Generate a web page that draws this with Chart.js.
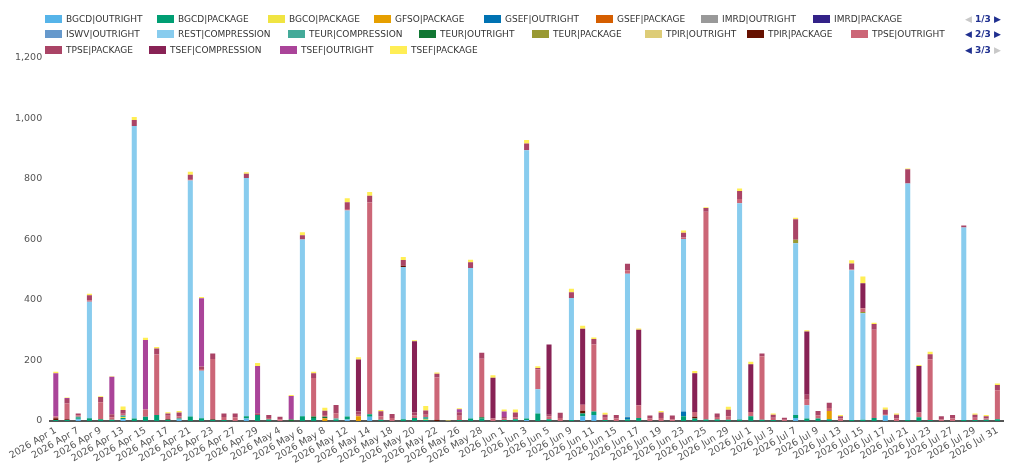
<!DOCTYPE html>
<html>
<head>
<meta charset="utf-8">
<script src="https://cdn.jsdelivr.net/npm/chart.js@4.4.1/dist/chart.umd.min.js"></script>
<style>
  html, body { margin: 0; padding: 0; background: #fff; }
  #wrap { position: relative; width: 1024px; height: 466px; }
  #legend { position: absolute; left: 0; top: 11px; width: 960px; font: 9px "DejaVu Sans", sans-serif; color: #333; }
  .row { position: relative; height: 15.5px; white-space: nowrap; }
  .item { position: absolute; top: 0; height: 15.5px; display: flex; align-items: center; }
  .box { width: 17px; height: 8px; margin-right: 4px; }
  #pager { position: absolute; left: 965px; top: 11px; font: bold 9px "DejaVu Sans", sans-serif; color: #1f2f8f; }
  #pager div { height: 15.5px; display: flex; align-items: center; }
  .off { color: #c8c8c8; }
</style>
</head>
<body>
<div id="wrap">
  <canvas id="grafico" width="1024" height="466"></canvas>
  <div id="legend"></div>
  <div id="pager">
    <div><span class="off">&#9664;</span>&nbsp;1/3&nbsp;<span>&#9654;</span></div>
    <div><span>&#9664;</span>&nbsp;2/3&nbsp;<span>&#9654;</span></div>
    <div><span>&#9664;</span>&nbsp;3/3&nbsp;<span class="off">&#9654;</span></div>
  </div>
</div>
<script>
// Datas (dias úteis) do eixo X
const datas = [
  '2026 Apr 1','2026 Apr 2','2026 Apr 7','2026 Apr 8','2026 Apr 9','2026 Apr 10','2026 Apr 13','2026 Apr 14','2026 Apr 15','2026 Apr 16',
  '2026 Apr 17','2026 Apr 20','2026 Apr 21','2026 Apr 22','2026 Apr 23','2026 Apr 24','2026 Apr 27','2026 Apr 28','2026 Apr 29','2026 Apr 30',
  '2026 May 4','2026 May 5','2026 May 6','2026 May 7','2026 May 8','2026 May 11','2026 May 12','2026 May 13','2026 May 14','2026 May 15',
  '2026 May 18','2026 May 19','2026 May 20','2026 May 21','2026 May 22','2026 May 25','2026 May 26','2026 May 27','2026 May 28','2026 May 29',
  '2026 Jun 1','2026 Jun 2','2026 Jun 3','2026 Jun 4','2026 Jun 5','2026 Jun 8','2026 Jun 9','2026 Jun 10','2026 Jun 11','2026 Jun 12',
  '2026 Jun 15','2026 Jun 16','2026 Jun 17','2026 Jun 18','2026 Jun 19','2026 Jun 22','2026 Jun 23','2026 Jun 24','2026 Jun 25','2026 Jun 26',
  '2026 Jun 29','2026 Jun 30','2026 Jul 1','2026 Jul 2','2026 Jul 3','2026 Jul 6','2026 Jul 7','2026 Jul 8','2026 Jul 9','2026 Jul 10',
  '2026 Jul 13','2026 Jul 14','2026 Jul 15','2026 Jul 16','2026 Jul 17','2026 Jul 20','2026 Jul 21','2026 Jul 22','2026 Jul 23','2026 Jul 24',
  '2026 Jul 27','2026 Jul 28','2026 Jul 29','2026 Jul 30','2026 Jul 31'
];

// Séries (uma por produto|tipo)
const bgcdOutright = [0,0,6,0,0,0,6,0,0,0, 0,5,0,0,0,0,0,8,0,0, 0,0,0,0,0,0,5,0,14,0, 0,0,0,0,0,0,0,0,0,0,
  0,0,3,0,0,0,0,16,20,0, 0,0,0,0,0,0,0,0,0,0, 0,0,0,0,0,0,10,0,0,0, 0,0,0,0,18,0,0,0,0,0, 0,0,0,0,0];
const bgcdPackage = [3,3,3,9,5,4,4,8,14,20, 4,3,15,9,4,3,0,8,20,5, 0,0,16,10,0,4,10,0,8,4, 0,6,10,4,0,0,3,8,8,0,
  3,6,5,25,6,0,3,9,11,3, 0,5,10,0,0,0,16,8,5,5, 4,5,16,4,3,0,10,8,8,6, 0,3,4,10,0,0,3,12,3,0, 0,3,3,4,6];
const bgcoPackage = [0,0,0,0,0,0,3,0,0,0, 0,0,0,0,0,0,0,0,0,0, 0,0,0,0,0,0,0,0,0,0, 0,0,0,3,0,0,0,0,0,0,
  0,0,0,0,0,0,0,0,0,0, 0,0,0,0,0,0,0,0,0,0, 0,0,0,0,0,0,0,0,0,0, 0,0,0,0,0,0,0,0,0,0, 0,0,0,0,0];
const gfsoPackage = [0,0,0,0,0,0,0,0,0,0, 0,0,0,0,0,0,0,0,0,0, 0,0,0,0,8,0,0,16,0,0, 0,0,0,0,0,0,0,0,0,0,
  0,0,0,0,0,0,0,0,0,0, 0,0,0,0,0,0,0,0,0,0, 0,0,0,0,0,0,0,0,0,27, 0,0,0,0,0,0,0,0,0,0, 0,0,0,0,0];
const gsefOutright = [0,0,0,0,0,0,0,0,0,0, 0,0,0,0,0,0,0,0,0,0, 0,0,0,0,0,0,0,0,0,0, 0,0,0,0,0,0,0,0,0,0,
  0,0,0,0,0,0,0,0,0,0, 0,7,0,0,0,0,15,0,0,0, 0,0,0,0,0,0,0,0,0,0, 0,0,0,0,0,0,0,0,0,0, 0,0,0,0,0];
const gsefPackage = [0,0,0,0,0,0,0,0,0,0, 0,0,0,0,0,0,0,0,0,0, 0,0,0,0,2,0,0,0,0,0, 0,0,0,0,0,0,0,0,0,0,
  0,0,0,0,0,0,0,0,0,0, 0,0,0,0,0,0,0,0,0,0, 0,0,0,0,0,0,0,0,0,0, 0,0,0,0,0,0,0,0,0,0, 0,0,0,0,0];
const imrdOutright = [0,0,0,0,0,0,0,0,0,0, 0,0,0,0,0,0,0,0,0,0, 0,0,0,0,0,0,0,0,0,0, 0,0,0,0,0,0,0,0,0,0,
  0,0,0,0,0,0,0,0,0,0, 0,2,0,0,0,0,0,0,0,0, 0,0,0,0,0,0,0,0,0,0, 0,0,0,0,0,0,0,0,0,0, 0,0,0,0,0];
const imrdPackage = [0,0,0,0,0,0,0,0,0,0, 0,0,0,0,0,0,0,0,0,0, 0,0,0,0,0,0,0,0,0,0, 0,0,0,0,0,0,0,0,0,0,
  0,0,0,0,0,0,0,0,0,0, 0,0,0,0,0,0,0,0,0,0, 0,0,0,0,0,0,0,0,0,0, 0,0,0,0,0,0,0,0,0,0, 0,0,0,0,0];
const iswvOutright = [0,0,0,0,0,0,0,0,0,0, 0,0,0,0,0,0,0,0,0,0, 0,0,0,0,0,0,0,0,0,0, 0,0,0,0,0,0,0,0,0,0,
  0,0,0,0,0,0,0,0,0,0, 0,0,0,0,0,0,0,0,0,0, 0,0,0,0,0,0,0,0,0,0, 0,0,0,0,0,0,0,0,0,0, 0,0,0,0,0];
const restCompression = [0,0,0,385,0,0,0,967,0,0, 0,0,780,157,0,0,0,787,0,0, 0,0,584,0,0,0,681,0,0,0, 0,503,0,0,0,0,0,498,0,0,
  0,0,887,80,0,0,404,0,0,0, 0,473,0,0,0,0,571,0,0,0, 0,715,0,0,0,0,568,44,0,0, 0,495,352,0,0,0,782,0,0,0, 0,637,0,0,0];
const teurCompression = [0,0,5,0,0,0,5,0,0,0, 0,0,0,0,0,0,0,0,0,0, 0,0,0,0,0,4,0,0,0,0, 0,0,0,6,0,0,0,0,0,0,
  0,0,0,0,0,0,0,0,0,0, 0,0,0,0,0,0,0,0,0,0, 0,0,0,0,0,0,0,0,0,0, 0,0,0,0,0,0,0,0,0,0, 0,0,0,0,0];
const teurOutright = [0,0,0,0,2,0,0,0,0,0, 0,0,0,0,0,0,0,0,0,0, 0,5,0,5,4,0,0,0,0,0, 0,0,0,0,0,0,0,0,4,0,
  0,0,0,0,0,0,0,0,0,0, 0,0,0,0,0,0,0,0,0,0, 0,0,0,0,0,0,0,0,0,0, 0,0,0,0,0,0,0,0,0,0, 0,0,0,0,0];
const teurPackage = [0,0,0,0,0,0,0,0,0,0, 0,0,0,0,0,0,0,0,0,0, 0,0,0,0,0,0,0,0,0,0, 0,0,0,0,0,0,0,0,0,0,
  0,0,0,0,0,0,0,0,0,0, 0,0,0,0,0,0,0,0,0,0, 0,0,0,0,0,0,11,0,0,0, 0,0,4,0,0,0,0,0,0,0, 0,0,0,0,0];
const tpirOutright = [0,0,0,0,0,0,0,0,0,0, 0,0,0,0,0,0,0,0,0,0, 0,0,0,0,0,0,0,0,0,0, 0,0,0,0,0,0,0,0,0,0,
  0,0,0,0,0,0,0,0,0,0, 0,0,0,0,0,0,0,0,0,0, 0,0,0,0,0,0,0,0,0,0, 0,0,0,0,0,0,0,0,0,0, 0,0,0,0,0];
const tpirPackage = [6,3,0,0,0,0,0,0,0,0, 3,0,0,0,3,0,0,0,0,0, 0,0,0,0,0,0,0,0,0,0, 0,4,0,0,4,0,0,0,0,0,
  0,0,0,0,0,0,0,9,0,0, 0,0,0,0,0,0,0,6,0,0, 0,0,0,0,0,0,0,0,0,0, 0,0,0,0,0,0,0,0,0,0, 0,0,0,0,0];
const tpseOutright = [6,52,5,5,55,8,6,0,24,200, 10,8,5,6,198,10,12,0,0,5, 6,0,0,127,6,18,5,5,700,12, 10,0,8,8,140,0,14,0,194,8,
  5,6,0,66,10,10,0,20,222,8, 8,11,42,8,10,6,5,16,687,8, 12,14,14,210,8,4,0,18,10,10, 8,3,13,292,5,8,0,16,201,6, 8,0,8,4,96];
const tpsePackage = [0,15,6,17,17,10,12,20,0,20, 8,12,14,8,18,12,13,14,6,10, 8,0,14,16,14,27,22,10,23,16, 13,19,10,14,12,0,12,19,20,0,
  5,16,22,4,5,17,19,0,18,10, 12,22,0,10,18,12,15,0,12,12, 21,26,0,9,10,7,68,17,15,17, 8,20,0,19,14,13,47,0,17,10, 12,6,10,8,17];
const tsefCompression = [0,0,0,0,0,0,0,0,0,0, 0,0,0,0,0,0,0,0,0,0, 0,0,0,0,0,0,0,172,0,0, 0,0,236,0,0,0,0,0,0,135,
  0,0,0,0,232,0,0,251,0,0, 0,0,250,0,0,0,0,128,0,0, 0,0,158,0,0,0,0,209,0,0, 0,0,82,0,0,0,0,154,0,0, 0,0,0,0,0];
const tsefOutright = [143,3,0,0,0,124,0,0,230,0, 0,0,0,226,0,0,0,0,156,0, 0,78,0,0,0,0,0,0,0,0, 0,0,0,0,0,0,10,0,0,0,
  18,0,0,0,0,0,0,0,0,0, 0,0,0,0,0,0,0,0,0,0, 0,0,0,0,0,0,0,0,0,0, 0,0,0,0,0,0,0,0,0,0, 0,0,0,0,0];
const tsefPackage = [5,2,0,5,3,2,12,10,7,5, 4,5,10,4,0,0,0,5,10,0, 0,3,10,5,10,0,13,8,12,4, 0,10,3,15,4,2,3,8,0,8,
  7,10,12,6,0,0,11,10,5,6, 0,0,4,0,5,0,8,7,3,0, 10,9,8,0,4,0,5,4,0,0, 4,10,23,4,8,4,3,3,8,0, 0,0,4,4,5];

const series = [
  { nome: 'BGCD|OUTRIGHT', cor: '#56B4E9', dados: bgcdOutright },
  { nome: 'BGCD|PACKAGE', cor: '#009E73', dados: bgcdPackage },
  { nome: 'BGCO|PACKAGE', cor: '#F0E442', dados: bgcoPackage },
  { nome: 'GFSO|PACKAGE', cor: '#E69F00', dados: gfsoPackage },
  { nome: 'GSEF|OUTRIGHT', cor: '#0072B2', dados: gsefOutright },
  { nome: 'GSEF|PACKAGE', cor: '#D55E00', dados: gsefPackage },
  { nome: 'IMRD|OUTRIGHT', cor: '#999999', dados: imrdOutright },
  { nome: 'IMRD|PACKAGE', cor: '#332288', dados: imrdPackage },
  { nome: 'ISWV|OUTRIGHT', cor: '#6699CC', dados: iswvOutright },
  { nome: 'REST|COMPRESSION', cor: '#88CCEE', dados: restCompression },
  { nome: 'TEUR|COMPRESSION', cor: '#44AA99', dados: teurCompression },
  { nome: 'TEUR|OUTRIGHT', cor: '#117733', dados: teurOutright },
  { nome: 'TEUR|PACKAGE', cor: '#999933', dados: teurPackage },
  { nome: 'TPIR|OUTRIGHT', cor: '#DDCC77', dados: tpirOutright },
  { nome: 'TPIR|PACKAGE', cor: '#661100', dados: tpirPackage },
  { nome: 'TPSE|OUTRIGHT', cor: '#CC6677', dados: tpseOutright },
  { nome: 'TPSE|PACKAGE', cor: '#AA4466', dados: tpsePackage },
  { nome: 'TSEF|COMPRESSION', cor: '#882255', dados: tsefCompression },
  { nome: 'TSEF|OUTRIGHT', cor: '#AA4499', dados: tsefOutright },
  { nome: 'TSEF|PACKAGE', cor: '#FFEE55', dados: tsefPackage }
];

// Legenda em HTML: posição (x) de cada item em cada linha
const colunasLegenda = [
  [45, 157, 268, 374, 484, 596, 701, 813],
  [45, 157, 288, 419, 532, 645, 747, 851],
  [45, 149, 280, 390]
];
const legend = document.getElementById('legend');
let k = 0;
colunasLegenda.forEach(linha => {
  const row = document.createElement('div');
  row.className = 'row';
  linha.forEach(x => {
    const s = series[k++];
    const item = document.createElement('div');
    item.className = 'item';
    item.style.left = x + 'px';
    item.innerHTML = `<span class="box" style="background:${s.cor}"></span><span>${s.nome}</span>`;
    row.appendChild(item);
  });
  legend.appendChild(row);
});

const fonte = { family: 'DejaVu Sans', size: 9.5 };

new Chart(document.getElementById('grafico').getContext('2d'), {
  type: 'bar',
  data: {
    labels: datas,
    datasets: series.map(s => ({
      label: s.nome,
      data: s.dados,
      backgroundColor: s.cor,
      borderWidth: 0,
      barPercentage: 0.9,
      categoryPercentage: 0.5
    }))
  },
  options: {
    responsive: false,
    animation: false,
    layout: { padding: { top: 58, right: 21, left: 7, bottom: 0 } },
    plugins: {
      legend: { display: false },
      tooltip: { enabled: false }
    },
    scales: {
      x: {
        stacked: true,
        grid: { display: false, drawTicks: false },
        border: { display: true, color: '#555555', width: 2 },
        afterFit: function(escala) {
          escala.height = 45; // altura fixa do eixo para bater com a referência
        },
        ticks: {
          autoSkip: false,
          minRotation: 30,
          maxRotation: 30,
          padding: 4,
          color: '#555555',
          font: fonte,
          callback: function(valor, i) {
            return i % 2 === 0 ? datas[i] : '';
          }
        }
      },
      y: {
        stacked: true,
        min: 0,
        max: 1200,
        grid: { display: false, drawTicks: false },
        border: { display: false },
        ticks: { stepSize: 200, padding: 8, color: '#555555', font: fonte }
      }
    }
  }
});
</script>
</body>
</html>
